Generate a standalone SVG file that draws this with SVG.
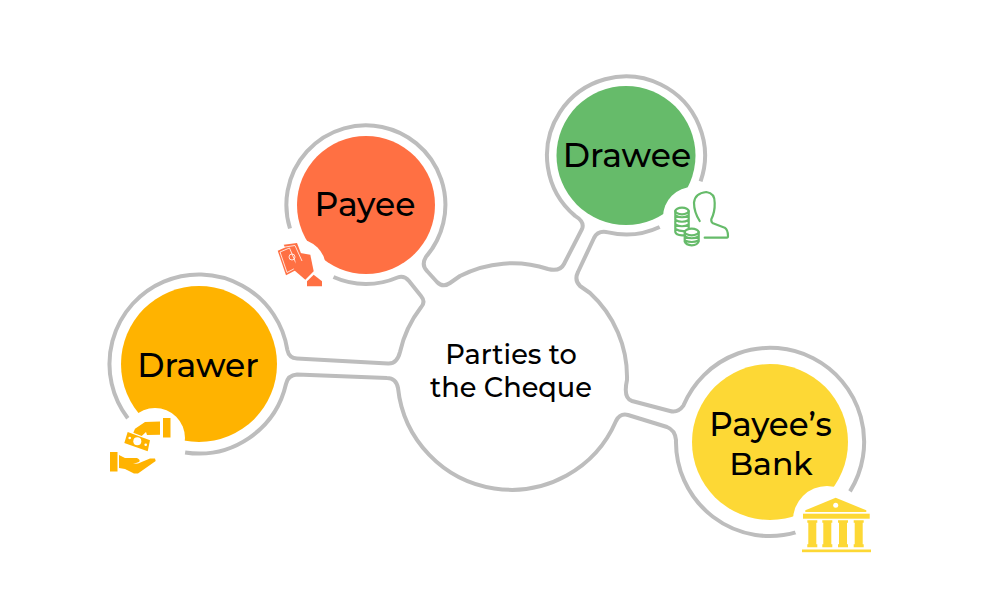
<svg xmlns="http://www.w3.org/2000/svg" width="1000" height="601" viewBox="0 0 1000 601">
<style>
.ring{fill:none;stroke:#bdbdbd;stroke-width:4;stroke-linecap:butt;stroke-linejoin:round}
text{font-family:Montserrat,"Inter","Liberation Sans",sans-serif;fill:#000;text-anchor:middle}
.big{font-size:33px;font-weight:500}
.mid{font-size:27.200px;font-weight:500}
.halo{fill:#fff}
.or{fill:#ffb300}.re{fill:#ff7043}.ye{fill:#fdd835}
.gl{fill:none;stroke:#66bb6a;stroke-width:2.200;stroke-linecap:round;stroke-linejoin:round}
.wl{fill:none;stroke:#fff;stroke-width:.8}
</style>
<defs>
<g id="col"><path d="M0 0H10V2.500H9V24H10V27H0V24H1V2.500H0Z"/></g>
</defs>
<rect width="1000" height="601" fill="#fff"/>
<g id="connectors">
<path class="ring" d="M127.800 418.200A89.500 89.500 0 1 1 287.400 350.100Q289 358 297 358.500L388 363.500Q397 364 400 352A114 114 0 0 1 421 307.300Q426 302 421 296L409 281Q404 275 397.500 277.500A79.500 79.500 0 0 1 333.500 277"/>
<path class="ring" d="M290 228.500A79.500 79.500 0 1 1 426 256.800Q421 265 427 271L437 282Q443 288 450 283L460 276A114 114 0 0 1 548 269Q560 272 564 264L582 229Q585 222 575.100 215.900A79 79 0 1 1 700.600 181.400"/>
<path class="ring" d="M659.700 227A79 79 0 0 1 608.200 232.400Q598 230 594 238L578 272Q574 280 580 286L590 293A114 114 0 0 1 627 380Q623 398 632 401L670 411Q678 413 683.400 405.600A94 94 0 1 1 850 491.400"/>
<path class="ring" d="M796.600 532.200A94 94 0 0 1 676 440Q675 430 667 427L628 415Q620 413 616 421A114 114 0 0 1 398 388Q396 378 387 378L297 374.500Q288 375 286 384A89.500 89.500 0 0 1 185.100 452.400"/>
</g>
<g id="drawer">
<circle cx="199" cy="364" r="78" class="or"/>
<circle class="halo" cx="155" cy="438" r="30"/>
<text class="big" x="198" y="376.500">Drawer</text>
<rect x="163" y="418" width="7.500" height="19.500" class="or"/>
<path d="M160 421.500L145 422L135 428.700L133.300 432.700L141.700 436L146 432L147 435L160 434.700Z" class="or"/>
<path d="M127.700 432L150 440.300L147.700 451.300L124.300 443Z" class="or"/>
<circle cx="137.300" cy="441.300" r="4" fill="#fff"/>
<circle cx="129.700" cy="438" r="1.300" fill="#fff"/>
<circle cx="145.700" cy="444.700" r="1.300" fill="#fff"/>
<rect x="110" y="452" width="7.500" height="19.500" class="or"/>
<path d="M119 455L125 458L137 458Q141 460 139 462L133 464L138 463.500L150 458.500L155 458.500L155.700 461L138 473.500L134 473.500L125 469L119 468Z" class="or"/>
</g>
<g id="payee">
<circle cx="366" cy="205" r="69" class="re"/>
<circle class="halo" cx="297" cy="268" r="29"/>
<text class="big" x="365" y="216">Payee</text>
<path d="M283.700 244.700L297 243L304 261L294 264Z" class="re"/>
<path d="M277.700 250.700L290.300 245.300L300 268L286 275.300Z" class="re"/>
<path d="M280 252L289.500 248L297.500 267L287 272.500Z" class="wl"/>
<path d="M300.300 253L310.300 254.700L313.700 271.300L305.300 279.700L293.700 269.700L296 260Z" class="re"/>
<path d="M313.700 274.700L322 281.300V286.300H307V281.300Z" class="re"/>
<path d="M285 247L295 245.500L302 261" class="wl"/>
<circle cx="292" cy="257" r="3" class="wl"/>
</g>
<g id="drawee">
<circle cx="626" cy="155.500" r="69.500" fill="#66bb6a"/>
<circle class="halo" cx="693" cy="217" r="30"/>
<text class="big" x="627" y="167">Drawee</text>
<path class="gl" d="M699.700 221Q694 212 694 202.700Q695 193 706.300 192Q715 193 714.700 203Q715 212 711.300 219.300Q711 222 713 223.300L724.700 227.700Q728 230 728 236Q728 237.700 727 237.700H704.700"/>
<ellipse class="gl" cx="682" cy="211" rx="6.700" ry="3.300"/>
<path class="gl" d="M675.300 211V232Q676 235 682 235.300H685M688.700 211V228M675.300 215.500Q682 219 688.700 215.500M675.300 220Q682 223.500 688.700 220M675.300 224.500Q682 228 688.700 224.500M675.300 229Q680 231.500 685 231"/>
<ellipse class="gl" cx="691.700" cy="232" rx="7" ry="3.300"/>
<path class="gl" d="M684.700 232V241.500Q686 245 691.700 245.300Q697.500 245 698.700 241.500V232M684.700 236.500Q691.700 240 698.700 236.500M684.700 240.500Q691.700 243.500 698.700 240.500"/>
</g>
<g id="bank">
<circle cx="770" cy="442" r="78" class="ye"/>
<circle class="halo" cx="827" cy="520" r="34"/>
<text class="big" x="770.500" y="436" style="font-size:32.500px">Payee’s</text>
<text class="big" x="771" y="475" style="font-size:31.500px">Bank</text>
<path d="M805.300 510.300L835.700 497.700L866.300 510.300V512H805.300Z" class="ye"/>
<circle cx="835.700" cy="505.300" r="2.500" fill="#fff"/>
<rect x="803" y="513.700" width="66.700" height="5" class="ye"/>
<g class="ye">
<use href="#col" x="807.300" y="520.300"/>
<use href="#col" x="822.300" y="520.300"/>
<use href="#col" x="838" y="520.300"/>
<use href="#col" x="853.700" y="520.300"/>
</g>
<rect x="802" y="549.500" width="69" height="2.700" class="ye"/>
</g>
<g id="center">
<text class="mid" x="511" y="364">Parties to</text>
<text class="mid" x="511" y="397">the Cheque</text>
</g>
</svg>
